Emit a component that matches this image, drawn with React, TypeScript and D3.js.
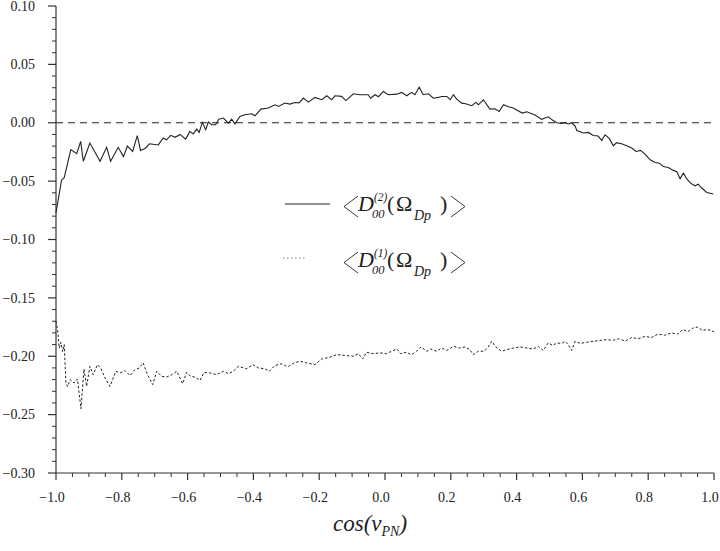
import React from 'react';
import * as d3 from 'd3';

const xTickValues = [-1.0, -0.8, -0.6, -0.4, -0.2, 0.0, 0.2, 0.4, 0.6, 0.8, 1.0];
const yTickValues = [0.10, 0.05, 0.00, -0.05, -0.10, -0.15, -0.20, -0.25, -0.30];

const solidX = [
  -1.0, -0.983, -0.975, -0.955, -0.937, -0.925, -0.917, -0.897, -0.881, -0.866, -0.846, -0.834, -0.811,
  -0.795, -0.783, -0.767, -0.753, -0.743, -0.729, -0.716, -0.689, -0.674, -0.664, -0.651, -0.638, -0.623,
  -0.606, -0.593, -0.583, -0.572, -0.565, -0.555, -0.545, -0.537, -0.527, -0.515, -0.505, -0.491, -0.476,
  -0.466, -0.456, -0.441, -0.426, -0.405, -0.395, -0.377, -0.355, -0.334, -0.324, -0.304, -0.289, -0.274,
  -0.261, -0.248, -0.233, -0.213, -0.192, -0.177, -0.162, -0.152, -0.132, -0.119, -0.096, -0.076, -0.051,
  -0.044, -0.030, -0.020, -0.005, 0.010, 0.036, 0.051, 0.066, 0.081, 0.091, 0.104, 0.116, 0.132, 0.147,
  0.162, 0.172, 0.188, 0.198, 0.208, 0.218, 0.233, 0.245, 0.264, 0.276, 0.284, 0.299, 0.319, 0.334, 0.347,
  0.360, 0.375, 0.390, 0.403, 0.417, 0.431, 0.456, 0.476, 0.496, 0.509, 0.522, 0.537, 0.547, 0.557, 0.567,
  0.578, 0.583, 0.603, 0.618, 0.633, 0.648, 0.659, 0.669, 0.682, 0.694, 0.704, 0.719, 0.735, 0.750, 0.763,
  0.777, 0.790, 0.806, 0.821, 0.834, 0.846, 0.861, 0.876, 0.887, 0.897, 0.907, 0.919, 0.929, 0.942, 0.952,
  0.962, 0.978, 0.998,
];
const solidY = [
  -0.077, -0.049, -0.047, -0.023, -0.0265, -0.016, -0.033, -0.0174, -0.0254, -0.033, -0.021, -0.033, -0.021,
  -0.029, -0.020, -0.0245, -0.011, -0.0237, -0.022, -0.018, -0.019, -0.013, -0.0146, -0.0108, -0.0125, -0.0100,
  -0.014, -0.0074, -0.0097, -0.0054, -0.0083, 0.0003, -0.006, 0.0006, -0.0017, -0.0017, 0.0031, 0.004, -0.0003,
  0.003, -0.001, 0.0054, 0.0068, 0.0077, 0.006, 0.0117, 0.0126, 0.0154, 0.014, 0.0169, 0.016, 0.0174,
  0.017, 0.0211, 0.0177, 0.0217, 0.0197, 0.0231, 0.0197, 0.0231, 0.0226, 0.019, 0.0248, 0.024, 0.024,
  0.021, 0.024, 0.0223, 0.0268, 0.024, 0.0245, 0.026, 0.0231, 0.026, 0.024, 0.0305, 0.024, 0.0248, 0.021,
  0.0217, 0.0225, 0.0225, 0.0197, 0.024, 0.0203, 0.0168, 0.0163, 0.0146, 0.0174, 0.0154, 0.0197, 0.0117, 0.012, 0.0097,
  0.0154, 0.0137, 0.0126, 0.0105, 0.0083, 0.0094, 0.0066, 0.0029, 0.0051, 0.0023, 0.0, -0.0006, 0.0, -0.001, 0.0,
  -0.0028, -0.0066, -0.0088, -0.0083, -0.0109, -0.0114, -0.0152, -0.0103, -0.0136, -0.0197, -0.017, -0.018, -0.0197, -0.0217, -0.0246,
  -0.0237, -0.0268, -0.0317, -0.034, -0.0346, -0.0374, -0.0383, -0.0408, -0.042, -0.048, -0.0432, -0.0488, -0.0517, -0.054, -0.0526,
  -0.0557, -0.0597, -0.061,
];

const dottedX = [
  -1.0, -0.995, -0.990, -0.985, -0.980, -0.975, -0.970, -0.965, -0.957, -0.945, -0.935, -0.924, -0.915, -0.907,
  -0.897, -0.887, -0.874, -0.864, -0.851, -0.836, -0.818, -0.805, -0.790, -0.775, -0.760, -0.747, -0.735, -0.722,
  -0.706, -0.694, -0.679, -0.664, -0.648, -0.633, -0.615, -0.603, -0.591, -0.578, -0.562, -0.550, -0.532, -0.512,
  -0.491, -0.476, -0.461, -0.446, -0.420, -0.402, -0.385, -0.365, -0.352, -0.335, -0.315, -0.295, -0.275, -0.258,
  -0.238, -0.213, -0.192, -0.167, -0.147, -0.122, -0.096, -0.081, -0.068, -0.056, -0.036, -0.015, 0.005, 0.020,
  0.036, 0.048, 0.064, 0.081, 0.096, 0.109, 0.127, 0.139, 0.157, 0.172, 0.188, 0.208, 0.226, 0.243, 0.258,
  0.268, 0.284, 0.301, 0.314, 0.324, 0.340, 0.355, 0.370, 0.390, 0.410, 0.431, 0.451, 0.466, 0.481, 0.496,
  0.510, 0.522, 0.537, 0.547, 0.557, 0.567, 0.578, 0.593, 0.613, 0.633, 0.653, 0.674, 0.694, 0.710, 0.730,
  0.750, 0.770, 0.790, 0.810, 0.830, 0.850, 0.870, 0.890, 0.905, 0.920, 0.935, 0.950, 0.965, 0.980, 1.0,
];
const dottedY = [
  -0.170, -0.178, -0.193, -0.188, -0.196, -0.190, -0.222, -0.226, -0.220, -0.2229, -0.2195, -0.245, -0.2109, -0.2258,
  -0.2087, -0.2158, -0.2072, -0.210, -0.2186, -0.2258, -0.2129, -0.2143, -0.2123, -0.2166, -0.2115, -0.2101, -0.2057, -0.2158,
  -0.2243, -0.2129, -0.2172, -0.2178, -0.2158, -0.2129, -0.2235, -0.2138, -0.2172, -0.2178, -0.2206, -0.2138, -0.2143, -0.2158,
  -0.2129, -0.2149, -0.2129, -0.2087, -0.2107, -0.2072, -0.210, -0.2107, -0.2129, -0.208, -0.2065, -0.209, -0.2055, -0.2043,
  -0.2057, -0.2072, -0.2023, -0.2008, -0.1986, -0.1993, -0.200, -0.1978, -0.2023, -0.1966, -0.1978, -0.1971, -0.1978, -0.1957,
  -0.1938, -0.1978, -0.1966, -0.1986, -0.1957, -0.192, -0.1957, -0.1938, -0.1957, -0.193, -0.195, -0.1915, -0.193, -0.192, -0.1943,
  -0.1986, -0.1957, -0.1957, -0.192, -0.1872, -0.193, -0.1957, -0.1943, -0.193, -0.192, -0.193, -0.1938, -0.1915, -0.195, -0.1886,
  -0.1908, -0.1886, -0.189, -0.1872, -0.190, -0.195, -0.1872, -0.189, -0.188, -0.1872, -0.1864, -0.1858, -0.1864, -0.185, -0.187,
  -0.184, -0.185, -0.183, -0.184, -0.181, -0.182, -0.180, -0.181, -0.177, -0.179, -0.176, -0.175, -0.178, -0.177, -0.179,
];

const fmt = (v: number, d: number) => (v < 0 ? '\u2212' : '') + Math.abs(v).toFixed(d);

const SERIF = 'Liberation Serif, Tinos, Times New Roman, Times, serif';
const INK = '#222';

function Legend({ dy, sup }: { dy: number; sup: string }) {
  const b = 267 + dy;
  const ts = { fontFamily: SERIF } as React.CSSProperties;
  return (
    <g fill={INK} style={ts}>
      <path d={`M358,${b - 15} L344,${b - 4.5} L358,${b + 6}`} fill="none" stroke={INK} strokeWidth={0.9} />
      <text x={358} y={b} fontSize={22} fontStyle="italic" style={ts}>D</text>
      <text x={374} y={b - 10} fontSize={11.5} fontStyle="italic" style={ts}>{sup}</text>
      <text x={372} y={b + 7} fontSize={12.5} fontStyle="italic" style={ts}>00</text>
      <text x={387} y={b} fontSize={22} style={ts}>(</text>
      <text x={396} y={b} fontSize={22} style={ts}>Ω</text>
      <text x={414} y={b + 9} fontSize={14} fontStyle="italic" style={ts}>Dp</text>
      <text x={440} y={b} fontSize={22} style={ts}>)</text>
      <path d={`M451,${b - 15} L465,${b - 4.5} L451,${b + 6}`} fill="none" stroke={INK} strokeWidth={0.9} />
    </g>
  );
}

export default function App() {
  const x = d3.scaleLinear().domain([-1, 1]).range([56, 714]);
  const y = d3.scaleLinear().domain([-0.3, 0.1]).range([473, 6]);

  const line = d3
    .line<[number, number]>()
    .x((d) => x(d[0]))
    .y((d) => y(d[1]));

  const solidPts = solidX.map((v, i) => [v, solidY[i]] as [number, number]);
  const dottedPts = dottedX.map((v, i) => [v, dottedY[i]] as [number, number]);

  const xMinor = d3.range(-1, 1.0001, 0.05).filter((v) => Math.abs(Math.round(v * 5) - v * 5) > 1e-6);
  const yMinor = d3.range(-0.3, 0.1001, 0.01).filter((v) => Math.abs(Math.round(v * 20) - v * 20) > 1e-6);

  const ts = { fontFamily: SERIF } as React.CSSProperties;

  return (
    <svg
      width={720}
      height={551}
      style={{ position: 'absolute', left: 0, top: 0, background: '#fff', fontFamily: SERIF }}
    >
      <rect width={720} height={551} fill="#fff" />
      <g stroke="#333" strokeWidth={1.2} fill="none">
        <line x1={x(-1)} x2={x(-1)} y1={y(0.1)} y2={y(-0.3)} />
        <line x1={x(-1)} x2={x(1)} y1={y(-0.3)} y2={y(-0.3)} />
        {xTickValues.map((v) => (
          <line key={'xt' + v} x1={x(v)} x2={x(v)} y1={y(-0.3)} y2={y(-0.3) + 7} />
        ))}
        {xMinor.map((v) => (
          <line key={'xm' + v} x1={x(v)} x2={x(v)} y1={y(-0.3)} y2={y(-0.3) + 4} strokeWidth={1} />
        ))}
        {yTickValues.map((v) => (
          <line key={'yt' + v} x1={x(-1) - 8} x2={x(-1)} y1={y(v)} y2={y(v)} />
        ))}
        {yMinor.map((v) => (
          <line key={'ym' + v} x1={x(-1) - 4} x2={x(-1)} y1={y(v)} y2={y(v)} strokeWidth={1} />
        ))}
      </g>
      <g fontSize={14} fill={INK} style={ts}>
        {yTickValues.map((v) => (
          <text key={'yl' + v} x={35} y={y(v) + 4.7} textAnchor="end" style={ts}>
            {fmt(v, 2)}
          </text>
        ))}
        {xTickValues.map((v) => (
          <text key={'xl' + v} x={x(v) - 4} y={501.5} textAnchor="middle" style={ts}>
            {fmt(v, 1)}
          </text>
        ))}
      </g>
      <line
        x1={x(-1)}
        x2={x(1)}
        y1={y(0)}
        y2={y(0)}
        stroke={INK}
        strokeWidth={1.2}
        strokeDasharray="7,5"
      />
      <path d={line(solidPts) || ''} fill="none" stroke={INK} strokeWidth={1.1} />
      <path d={line(dottedPts) || ''} fill="none" stroke={INK} strokeWidth={1} strokeDasharray="2.5,2" />
      <line x1={285} x2={330} y1={204} y2={204} stroke={INK} strokeWidth={1.1} />
      <line x1={283} x2={307} y1={258} y2={258} stroke={INK} strokeWidth={0.8} strokeDasharray="1.5,2.5" opacity={0.7} />
      <Legend dy={-56} sup="(2)" />
      <Legend dy={0} sup="(1)" />
      <text x={333} y={531} fontSize={23} fontStyle="italic" fill={INK} style={ts}>
        cos(v
        <tspan fontSize={14} dy={5}>PN</tspan>
        <tspan dy={-5}>)</tspan>
      </text>
    </svg>
  );
}
